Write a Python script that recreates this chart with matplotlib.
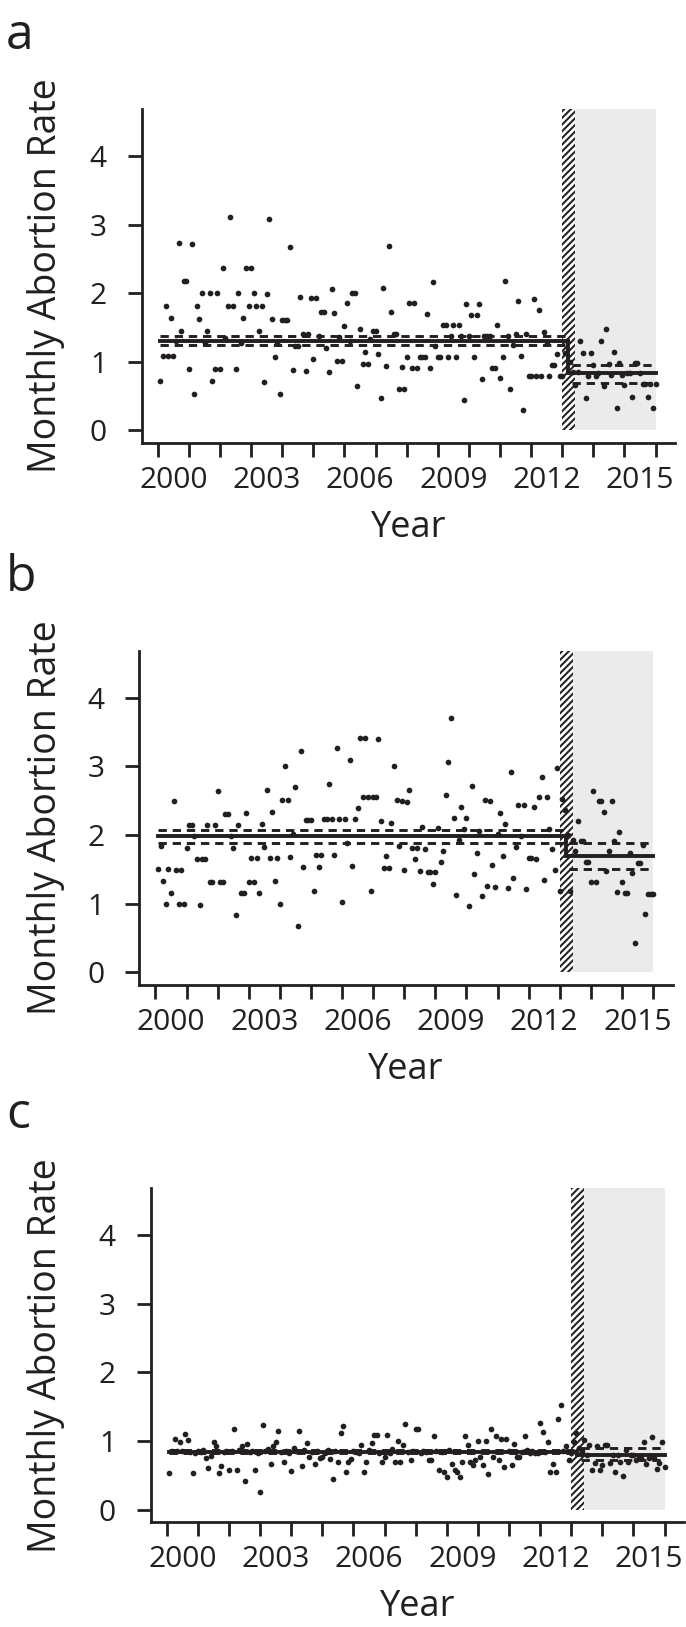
import numpy as np
import matplotlib
matplotlib.use("Agg")
import matplotlib.pyplot as plt
from matplotlib.patches import Rectangle

plt.rcParams['font.family'] = ['Open Sans', 'DejaVu Sans']
plt.rcParams['hatch.linewidth'] = 1.45
plt.rcParams['lines.scale_dashes'] = False

INK = '#231f20'
GREY = '#ebebeb'

# ---------------- data (monthly rates, Jan 2000 .. Dec 2015) ----------------
FIRST_YEAR = 2000

rate_a = [
    0.72, 1.09, 1.82, 1.09, 1.64, 1.09, 1.30, 2.73, 1.45, 2.18,
    2.18, 0.90, 2.72, 0.53, 1.81, 1.63, 2.00, 1.27, 1.45, 2.00,
    0.72, 0.90, 2.00, 0.90, 2.37, 1.35, 1.82, 3.11, 1.82, 0.90,
    2.00, 1.28, 1.64, 2.37, 1.82, 2.37, 2.00, 1.82, 1.45, 1.82,
    0.71, 1.99, 3.08, 1.62, 1.07, 1.27, 0.53, 1.61, 1.61, 1.61,
    2.68, 0.88, 1.23, 1.23, 1.94, 1.40, 0.87, 1.40, 1.93, 1.04,
    1.93, 1.38, 1.73, 1.73, 1.20, 0.85, 2.06, 1.71, 1.01, 1.36,
    1.01, 1.52, 1.85, 1.30, 2.00, 2.00, 0.65, 1.48, 0.97, 1.14,
    0.97, 1.33, 1.45, 1.45, 1.11, 0.47, 2.07, 0.94, 2.69, 1.73,
    1.41, 1.41, 0.61, 0.92, 0.61, 1.07, 1.85, 0.91, 1.85, 0.91,
    1.07, 1.07, 1.07, 1.69, 0.91, 2.16, 1.23, 1.07, 1.07, 1.53,
    1.53, 1.07, 1.37, 1.53, 1.07, 1.53, 1.37, 0.45, 1.84, 1.37,
    1.68, 1.07, 1.68, 1.84, 0.75, 1.37, 1.37, 1.37, 0.91, 0.91,
    1.53, 0.76, 1.07, 2.18, 1.37, 0.61, 1.24, 1.40, 1.88, 1.09,
    0.30, 1.41, 0.79, 0.79, 1.91, 0.79, 1.75, 0.79, 1.44, 1.29,
    0.79, 0.96, 0.96, 1.12, 0.79, 0.79, 1.13, 1.30, 1.00, 0.85,
    0.66, 0.85, 1.30, 1.13, 0.48, 0.80, 1.13, 0.96, 0.80, 0.83,
    1.31, 0.65, 1.48, 0.97, 0.81, 1.15, 0.32, 0.98, 0.81, 0.66,
    0.83, 0.83, 0.49, 0.98, 0.98, 0.83, 0.67, 0.67, 0.49, 0.67,
    0.32, 0.67,
]

rate_b = [
    1.50, 1.84, 1.33, 0.99, 1.50, 1.16, 2.49, 1.49, 0.99, 1.49,
    0.99, 1.81, 2.14, 2.14, 1.98, 1.65, 0.98, 1.65, 1.65, 2.14,
    1.31, 1.31, 2.15, 2.64, 1.31, 1.31, 2.31, 2.31, 1.99, 1.81,
    0.83, 2.15, 1.15, 1.15, 2.32, 1.32, 1.66, 1.32, 1.66, 1.16,
    2.16, 1.82, 2.66, 1.66, 2.33, 1.33, 1.66, 0.99, 2.51, 3.01,
    2.51, 1.68, 2.02, 2.70, 0.67, 3.22, 1.53, 2.22, 2.22, 2.22,
    1.19, 1.71, 1.54, 1.71, 2.23, 2.23, 2.75, 2.23, 1.71, 3.27,
    2.24, 1.02, 2.24, 1.89, 3.09, 1.55, 2.23, 2.40, 3.42, 2.56,
    3.42, 2.56, 1.19, 2.56, 2.56, 3.40, 2.20, 1.52, 1.69, 1.52,
    2.18, 3.01, 2.51, 1.84, 2.49, 1.49, 2.48, 2.65, 1.81, 1.65,
    1.81, 1.47, 2.12, 1.79, 1.46, 1.46, 1.29, 1.46, 2.10, 1.61,
    1.77, 2.58, 3.06, 3.71, 2.25, 1.12, 1.93, 2.41, 2.09, 2.25,
    0.96, 2.72, 1.43, 1.74, 2.06, 1.11, 2.51, 1.25, 2.50, 1.56,
    1.24, 2.02, 2.32, 1.70, 2.16, 1.23, 2.92, 1.38, 1.83, 2.44,
    1.98, 2.43, 1.21, 1.66, 1.66, 2.41, 1.65, 2.55, 2.85, 1.35,
    2.55, 2.09, 1.79, 1.49, 2.98, 1.19, 2.52, 2.37, 2.00, 1.18,
    1.92, 1.77, 2.21, 1.91, 1.91, 1.61, 1.61, 1.32, 2.64, 1.32,
    2.49, 2.49, 2.34, 1.47, 1.76, 2.49, 1.91, 1.17, 2.05, 1.31,
    1.16, 1.16, 1.74, 1.45, 0.43, 1.59, 1.59, 1.86, 0.85, 1.14,
    1.14, 1.14,
]

rate_c = [
    0.53, 0.85, 1.03, 0.85, 0.99, 0.86, 1.10, 1.02, 0.84, 0.53,
    0.82, 0.86, 0.84, 0.87, 0.75, 0.60, 0.78, 0.99, 0.93, 0.53,
    0.63, 0.84, 0.86, 0.57, 0.85, 1.17, 0.57, 0.87, 0.93, 0.42,
    0.96, 0.84, 0.86, 0.57, 0.83, 0.25, 1.23, 0.85, 0.88, 0.66,
    0.92, 0.99, 1.15, 0.84, 0.70, 0.86, 0.83, 0.56, 0.89, 0.85,
    1.15, 0.63, 0.87, 0.97, 0.77, 0.84, 0.66, 0.86, 0.75, 0.77,
    0.83, 0.87, 0.73, 0.45, 0.85, 0.70, 1.11, 1.22, 0.55, 0.70,
    0.73, 0.86, 0.84, 0.82, 0.94, 0.55, 0.70, 0.87, 0.97, 1.08,
    1.08, 0.82, 0.70, 0.77, 1.08, 0.83, 0.88, 0.70, 1.00, 0.70,
    0.94, 1.25, 0.84, 0.72, 0.86, 1.17, 1.17, 0.83, 0.86, 0.84,
    0.72, 0.72, 1.07, 0.86, 0.58, 0.84, 0.54, 0.48, 0.87, 0.66,
    0.58, 0.55, 0.48, 0.69, 1.07, 0.94, 0.69, 0.65, 0.72, 1.00,
    0.76, 0.65, 1.00, 0.52, 1.17, 0.76, 1.07, 0.72, 1.03, 0.62,
    1.03, 0.86, 0.65, 0.96, 0.76, 0.76, 0.84, 1.07, 0.87, 0.83,
    0.86, 0.83, 0.83, 1.26, 1.13, 0.84, 0.98, 0.54, 0.67, 0.54,
    1.32, 1.53, 0.85, 0.93, 0.72, 0.83, 0.99, 1.11, 0.90, 0.85,
    1.01, 0.80, 0.94, 0.57, 0.68, 0.92, 0.57, 0.65, 0.94, 0.94,
    0.68, 0.80, 0.54, 0.80, 0.70, 0.49, 0.87, 0.70, 0.80, 0.80,
    0.72, 0.75, 0.75, 0.99, 0.66, 0.75, 1.05, 0.75, 0.59, 0.68,
    0.98, 0.62,
]

# fitted level with confidence band: pre, pre_lo, pre_hi, post, post_lo, post_hi
fit_a = [1.31, 1.25, 1.37, 0.83, 0.69, 0.96]
fit_b = [1.98, 1.89, 2.08, 1.69, 1.50, 1.88]
fit_c = [0.845, 0.82, 0.87, 0.80, 0.72, 0.89]

year_tick_values = list(range(2000, 2017))
year_label_values = [2000, 2003, 2006, 2009, 2012, 2015]
rate_ticks = [0, 1, 2, 3, 4]
transition_start, transition_end = 2013.0, 2013.42
post_end = 2016.0
level_change = 2013.2
panel_letters = ['a', 'b', 'c']

# ---------------- layout (pixels) ----------------
W, H = 686, 1627
AX_W, AX_H = 533.4, 333.5
XLIM = (1999.48, 2016.63)
YLIM = (-0.18, 4.68)
panel_left = [141.7, 139.3, 150.7]
panel_bottom = [442.8, 984.6, 1521.9]

fig = plt.figure(figsize=(W / 100, H / 100), dpi=100)

series = [rate_a, rate_b, rate_c]
fits = [fit_a, fit_b, fit_c]

for i in range(3):
    left, bottom = panel_left[i], panel_bottom[i]
    ax = fig.add_axes([left / W, 1 - bottom / H, AX_W / W, AX_H / H])
    ax.set_xlim(XLIM)
    ax.set_ylim(YLIM)
    ax.patch.set_alpha(0)

    ax.add_patch(Rectangle((transition_end, 0), post_end - transition_end, YLIM[1],
                           facecolor=GREY, edgecolor='none', zorder=0))
    ax.add_patch(Rectangle((transition_start, 0), transition_end - transition_start, YLIM[1],
                           facecolor='white', edgecolor=INK, lw=0, hatch='/////', zorder=1))

    rates = np.array(series[i])
    x = FIRST_YEAR + (np.arange(len(rates)) + 1) / 12.0
    ax.plot(x, rates, 'o', ms=4.1, color=INK, mew=0, zorder=3)

    pre, pre_lo, pre_hi, post, post_lo, post_hi = fits[i]
    ax.plot([x[0], level_change, level_change, post_end], [pre, pre, post, post],
            color=INK, lw=2.8, zorder=4, solid_joinstyle='miter')
    for v in (pre_lo, pre_hi):
        ax.plot([x[0], level_change], [v, v], color=INK, lw=2.1, dashes=(6, 4.2), zorder=4)
    for v in (post_lo, post_hi):
        ax.plot([level_change + 0.1, post_end], [v, v], color=INK, lw=2.1, dashes=(6, 4.2), zorder=4)

    for s in ('top', 'right'):
        ax.spines[s].set_visible(False)
    for s in ('left', 'bottom'):
        ax.spines[s].set_linewidth(2.0)
        ax.spines[s].set_color(INK)

    ax.set_yticks(rate_ticks, labels=[str(t) for t in rate_ticks])
    ax.tick_params(axis='y', length=10, width=2.0, color=INK, pad=15,
                   labelsize=21.5, labelcolor=INK)
    ax.set_xticks(year_tick_values, labels=[''] * len(year_tick_values))
    ax.set_xticks([y + 0.5 for y in year_label_values],
                  labels=[str(y) for y in year_label_values], minor=True)
    ax.tick_params(axis='x', which='major', length=10, width=2.0, color=INK)
    ax.tick_params(axis='x', which='minor', length=0, pad=16.5,
                   labelsize=21.5, labelcolor=INK)

    fig.text(46 / W, 1 - (bottom - AX_H / 2) / H, 'Monthly Abortion Rate',
             rotation=90, ha='center', va='center', fontsize=27, color=INK)
    fig.text((left + AX_W / 2) / W, 1 - (bottom + 94) / H, 'Year',
             ha='center', va='baseline', fontsize=26, color=INK)
    fig.text(6 / W, 1 - (bottom - AX_H - 60) / H, panel_letters[i],
             ha='left', va='baseline', fontsize=36, color=INK)

fig.savefig('out.png', dpi=100)
